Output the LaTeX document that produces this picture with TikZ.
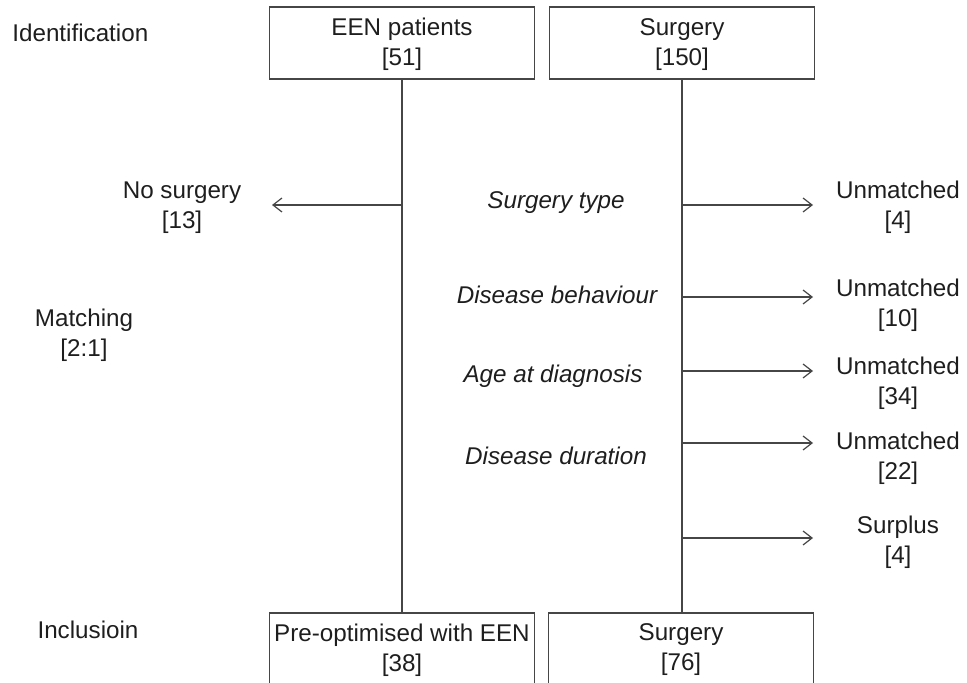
\documentclass[tikz,border=0pt]{standalone}
\usepackage{fontspec}
\setmainfont{Liberation Sans}
\definecolor{linegray}{RGB}{70,70,70}
\definecolor{textgray}{RGB}{30,30,30}
\usetikzlibrary{arrows.meta,positioning,calc}

\begin{document}
\begin{tikzpicture}[x=0.5pt,y=-0.5pt,
    every node/.style={font=\fontsize{12.1}{15}\selectfont,text=textgray,align=center,inner sep=0pt},
    box/.style={draw=linegray,line width=0.6pt,minimum width=132.5pt},
    flow/.style={draw=linegray,line width=0.6pt},
    crit/.style={font=\fontsize{12.1}{15}\selectfont\itshape},
    >={Straight Barb[length=4.5pt,width=7pt]}]
                \clip (0,0) rectangle (967,683);
                \useasboundingbox (0,0) rectangle (967,683);

                % Stage labels
                \node[anchor=west] (ident) at (12,33) {Identification};
                \node (match) at (84,335) {Matching\\{[2:1]}};
                \node (incl) at (88,630) {Inclusioin};

                % Top boxes
                \node[box,minimum height=36pt,text depth=1pt] (een) at (402,43) {EEN patients\\{[51]}};
                \node[box,minimum height=36pt,text depth=1pt] (surg) at (682,43) {Surgery\\{[150]}};

                % Bottom boxes
                \node[box,minimum height=37pt] (preopt) at (402,650) {Pre-optimised with EEN\\{[38]}};
                \node[box,minimum height=37pt] (surgout) at (681,650) {Surgery\\{[76]}};

                % Vertical flow
                \draw[flow] (een.south) -- (een.south |- preopt.north);
                \draw[flow] (surg.south) -- (surg.south |- surgout.north);

                % Matching criteria
                \node[crit] (ctype) at (556,203) {Surgery type};
                \node[crit] (cbehav) at (557,295) {Disease behaviour};
                \node[crit] (cage) at (553,376) {Age at diagnosis};
                \node[crit] (cdur) at (556,456) {Disease duration};

                % Excluded
                \node (nosurg) at (182,208) {No surgery\\{[13]}};
                \node (un1) at (898,207) {Unmatched\\{[4]}};
                \node (un2) at (898,305) {Unmatched\\{[10]}};
                \node (un3) at (898,383) {Unmatched\\{[34]}};
                \node (un4) at (898,458) {Unmatched\\{[22]}};
                \node (surplus) at (898,542) {Surplus\\{[4]}};

                % Arrow ends
                \coordinate (ns) at (272,205);
                \coordinate (e1) at (813,205);
                \coordinate (e2) at (813,297);
                \coordinate (e3) at (813,371);
                \coordinate (e4) at (813,443);
                \coordinate (e5) at (813,538);

                \draw[flow,->] (een.south |- ns) -- (ns);
                \draw[flow,->] (surg.south |- e1) -- (e1);
                \draw[flow,->] (surg.south |- e2) -- (e2);
                \draw[flow,->] (surg.south |- e3) -- (e3);
                \draw[flow,->] (surg.south |- e4) -- (e4);
                \draw[flow,->] (surg.south |- e5) -- (e5);
            \end{tikzpicture}
\end{document}
